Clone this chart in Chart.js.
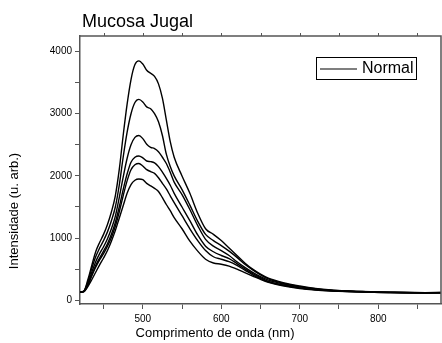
<!DOCTYPE html>
<html>
<head>
<meta charset="utf-8">
<script src="https://cdn.jsdelivr.net/npm/chart.js@4/dist/chart.umd.min.js"></script>
<style>
  html, body { margin: 0; padding: 0; background: #fff; }
  #wrap { width: 442px; height: 343px; position: relative; }
</style>
</head>
<body>
<div id="wrap"><canvas id="chart"></canvas></div>
<script>
// Spectra values
const wavelengths = [420, 425, 430, 435, 440, 445, 450, 455, 460, 465, 470, 475, 480, 485, 490, 495, 500, 505, 510, 515, 520, 525, 530, 535, 540, 550, 560, 570, 580, 590, 600, 610, 620, 630, 640, 650, 660, 680, 700, 720, 740, 760, 780, 800, 820, 840, 860, 880];

const curve1 = [130, 150, 330, 560, 780, 930, 1060, 1220, 1420, 1680, 2100, 2650, 3150, 3550, 3790, 3850, 3800, 3700, 3650, 3600, 3480, 3250, 2900, 2550, 2300, 2000, 1720, 1400, 1150, 1060, 960, 840, 720, 600, 500, 420, 355, 280, 230, 190, 165, 150, 140, 132, 128, 125, 122, 125];
const curve2 = [130, 148, 300, 510, 700, 840, 960, 1100, 1280, 1500, 1850, 2300, 2700, 3000, 3180, 3230, 3190, 3110, 3080, 3000, 2870, 2650, 2350, 2150, 2000, 1780, 1530, 1270, 1060, 960, 880, 790, 690, 580, 490, 410, 345, 270, 220, 185, 160, 148, 140, 130, 127, 124, 121, 124];
const curve3 = [130, 145, 270, 450, 620, 750, 860, 990, 1150, 1350, 1650, 1980, 2280, 2500, 2620, 2650, 2600, 2510, 2460, 2440, 2390, 2300, 2200, 2060, 1900, 1700, 1460, 1200, 980, 870, 800, 720, 620, 530, 450, 380, 325, 260, 215, 180, 158, 146, 138, 130, 126, 123, 120, 123];
const curve4 = [130, 142, 250, 410, 560, 680, 790, 910, 1060, 1250, 1500, 1780, 2030, 2220, 2300, 2320, 2290, 2240, 2230, 2210, 2150, 2060, 1960, 1850, 1720, 1500, 1280, 1050, 870, 780, 720, 670, 590, 505, 430, 365, 305, 245, 200, 172, 155, 144, 136, 128, 125, 122, 120, 122];
const curve5 = [130, 140, 240, 390, 530, 650, 750, 870, 1010, 1190, 1420, 1680, 1920, 2100, 2180, 2200, 2160, 2100, 2070, 2040, 1970, 1880, 1790, 1680, 1570, 1360, 1150, 960, 800, 700, 660, 620, 560, 485, 410, 350, 298, 240, 195, 170, 153, 142, 135, 127, 124, 121, 119, 121];
const curve6 = [130, 140, 220, 330, 450, 570, 680, 800, 950, 1120, 1320, 1520, 1720, 1860, 1930, 1950, 1940, 1880, 1840, 1800, 1750, 1650, 1540, 1440, 1330, 1150, 950, 790, 660, 600, 580, 550, 500, 445, 390, 335, 288, 230, 190, 165, 150, 140, 134, 126, 123, 120, 118, 120];

const curves = [curve1, curve2, curve3, curve4, curve5, curve6];

// tick positions (minor + major) and the labelled ones
const xTickValues = [450, 500, 550, 600, 650, 700, 750, 800, 850];
const yTickValues = [0, 500, 1000, 1500, 2000, 2500, 3000, 3500, 4000];
const xTickLabels = [500, 600, 700, 800];
const yTickLabels = [0, 1000, 2000, 3000, 4000];

const chartTitle = 'Mucosa Jugal';
const xTitle = 'Comprimento de onda (nm)';
const yTitle = 'Intensidade (u. arb.)';
const legendLabel = 'Normal';

const FONT = '"Liberation Sans", Arial, sans-serif';

// frame, titles and boxed legend like the Origin export
const decorPlugin = {
    id: 'decor',
    afterDraw(chart) {
        const ctx = chart.ctx;
        const a = chart.chartArea;
        const xs = chart.scales.x;
        ctx.save();

        // top and right frame lines
        ctx.strokeStyle = '#555';
        ctx.lineWidth = 1.5;
        ctx.beginPath();
        ctx.moveTo(a.left, a.top);
        ctx.lineTo(a.right, a.top);
        ctx.lineTo(a.right, a.bottom);
        ctx.stroke();

        // small ticks on the top axis
        ctx.lineWidth = 1;
        xs.ticks.forEach(t => {
            const px = Math.round(xs.getPixelForValue(t.value)) + 0.5;
            ctx.beginPath();
            ctx.moveTo(px, a.top);
            ctx.lineTo(px, a.top - 3);
            ctx.stroke();
        });

        ctx.fillStyle = '#000';

        // chart title
        ctx.font = '18px ' + FONT;
        ctx.textAlign = 'left';
        ctx.textBaseline = 'alphabetic';
        ctx.fillText(chartTitle, 82, 27);

        // x axis title
        ctx.font = '13px ' + FONT;
        ctx.textAlign = 'center';
        ctx.textBaseline = 'middle';
        ctx.fillText(xTitle, 215, 333);

        // y axis title
        ctx.save();
        ctx.translate(14, 211);
        ctx.rotate(-Math.PI / 2);
        ctx.fillText(yTitle, 0, 0);
        ctx.restore();

        // legend box
        ctx.strokeStyle = '#000';
        ctx.lineWidth = 1;
        ctx.strokeRect(316.5, 57.5, 100, 22);
        ctx.lineWidth = 1.2;
        ctx.beginPath();
        ctx.moveTo(320, 69);
        ctx.lineTo(357, 69);
        ctx.stroke();
        ctx.font = '16px ' + FONT;
        ctx.textAlign = 'left';
        ctx.fillText(legendLabel, 362, 69);

        ctx.restore();
    }
};

const datasets = curves.map(c => ({
    label: legendLabel,
    data: wavelengths.map((w, j) => ({ x: w, y: c[j] })),
    borderColor: '#000',
    borderWidth: 1.4,
    pointRadius: 0,
    fill: false,
    cubicInterpolationMode: 'monotone'
}));

new Chart(document.getElementById('chart'), {
    type: 'line',
    data: { datasets },
    options: {
        responsive: true,
        maintainAspectRatio: false,
        animation: false,
        layout: { padding: { top: 36, right: 1, left: 0, bottom: 0 } },
        plugins: {
            legend: { display: false },
            title: { display: false },
            tooltip: { enabled: false }
        },
        scales: {
            x: {
                type: 'linear',
                min: 420,
                max: 880,
                afterFit: s => { s.height = 39; },
                afterBuildTicks: s => { s.ticks = xTickValues.map(v => ({ value: v })); },
                ticks: {
                    padding: 4,
                    color: '#000',
                    font: { family: FONT, size: 10 },
                    maxRotation: 0,
                    autoSkip: false,
                    callback: v => xTickLabels.includes(v) ? String(v) : ''
                },
                grid: { drawOnChartArea: false, drawTicks: true, tickLength: 5, color: '#555' },
                border: { color: '#555', width: 1.5 }
            },
            y: {
                type: 'linear',
                min: -60,
                max: 4250,
                afterFit: s => { s.width = 80; },
                afterBuildTicks: s => { s.ticks = yTickValues.map(v => ({ value: v })); },
                ticks: {
                    padding: 3,
                    color: '#000',
                    font: { family: FONT, size: 10 },
                    autoSkip: false,
                    callback: v => yTickLabels.includes(v) ? String(v) : ''
                },
                grid: { drawOnChartArea: false, drawTicks: true, tickLength: 5, color: '#555' },
                border: { color: '#555', width: 1.5 }
            }
        }
    },
    plugins: [decorPlugin]
});
</script>
</body>
</html>
